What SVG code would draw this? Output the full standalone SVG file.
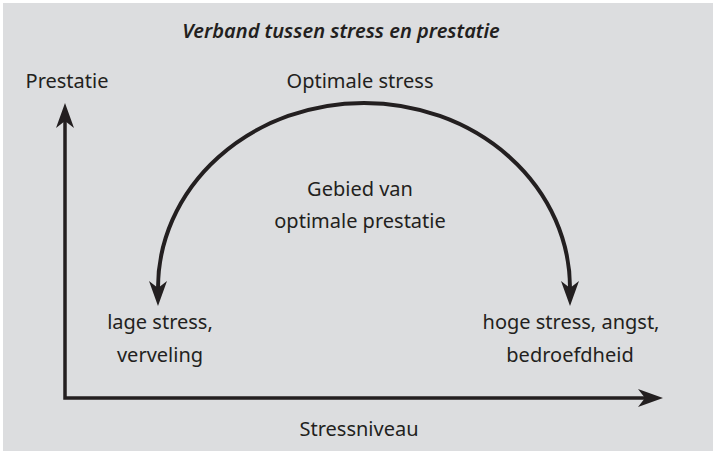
<svg xmlns="http://www.w3.org/2000/svg" width="713" height="452" viewBox="0 0 713 452">
<style>
.t{font-family:"Noto Sans","Liberation Sans",sans-serif;font-size:20px;fill:#231f20;text-anchor:middle}
.title{font-style:italic;font-weight:600;font-size:20px}
.ln{fill:none;stroke:#231f20}
</style>
<defs>
<marker id="ah" viewBox="-8 -10 28 20" refX="0" refY="0" markerWidth="28" markerHeight="20" markerUnits="userSpaceOnUse" orient="auto-start-reverse">
<path d="M18,0 L-7,-9 L0,0 L-7,9 Z" fill="#231f20"/>
</marker>
</defs>
<rect x="3" y="3" width="710" height="448" fill="#dcdddf"/>
<g id="title"><text class="t title" x="341" y="38">Verband tussen stress en prestatie</text></g>
<g id="connectors">
<path class="ln" stroke-width="3.5" stroke-linejoin="miter" d="M65,121 V398 H645" marker-start="url(#ah)" marker-end="url(#ah)"/>
<path class="ln" stroke-width="4" d="M158,288 A206,185 0 0 1 570,288" marker-start="url(#ah)" marker-end="url(#ah)"/>
</g>
<g id="y-label"><text class="t" x="67" y="88">Prestatie</text></g>
<g id="x-label"><text class="t" x="359" y="436">Stressniveau</text></g>
<g id="top"><text class="t" x="360" y="88">Optimale stress</text></g>
<g id="center"><text class="t" x="360" y="196">Gebied van</text><text class="t" x="360" y="228">optimale prestatie</text></g>
<g id="low"><text class="t" x="160" y="329">lage stress,</text><text class="t" x="160" y="362">verveling</text></g>
<g id="high"><text class="t" x="571" y="329">hoge stress, angst,</text><text class="t" x="570" y="362">bedroefdheid</text></g>
</svg>
